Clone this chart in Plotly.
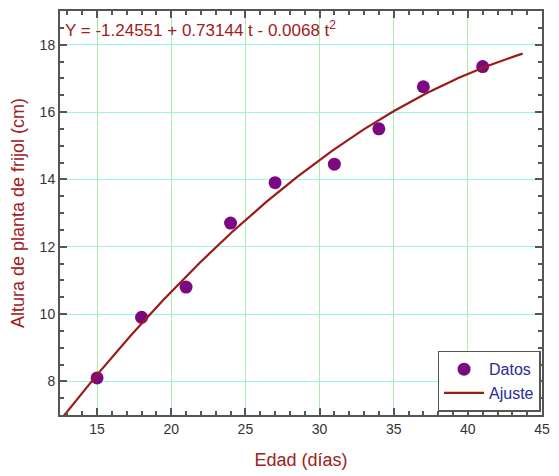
import numpy as np
import plotly.graph_objects as go

edad = [15, 18, 21, 24, 27, 31, 34, 37, 41]
altura = [8.1, 9.9, 10.8, 12.7, 13.9, 14.45, 15.5, 16.75, 17.35]
coef = [-1.24551, 0.73144, -0.0068]  # fitted equation printed on the chart
t_range = [12.5, 43.7]

t = np.linspace(t_range[0], t_range[1], 200)
y_fit = coef[0] + coef[1] * t + coef[2] * t ** 2

fig = go.Figure()
fig.add_trace(go.Scatter(x=edad, y=altura, mode="markers", name="Datos",
                         marker=dict(color="#7B0A82", size=13)))
fig.add_trace(go.Scatter(x=t, y=y_fit, mode="lines", name="Ajuste",
                         line=dict(color="#9B1B1B", width=2.2)))

FONT = "Liberation Sans, Arial"
axis_common = dict(showline=True, linecolor="#555555", linewidth=2, mirror="ticks",
                   ticks="inside", ticklen=7, tickwidth=1.5, tickcolor="#555555",
                   tickfont=dict(family=FONT, size=14, color="#333333"),
                   zeroline=False,
                   minor=dict(ticks="inside", ticklen=4, tickcolor="#555555", showgrid=False))

fig.update_xaxes(range=[12.5, 45], dtick=5, tick0=15, showgrid=True, gridcolor="#A8F0A8",
                 gridwidth=1,
                 title=dict(text="Edad (días)", font=dict(family=FONT, size=18, color="#A02020"),
                            standoff=18),
                 **axis_common)
fig.update_yaxes(range=[7, 19], dtick=2, tick0=8, showgrid=True, gridcolor="#98F5E8",
                 gridwidth=1,
                 title=dict(text="Altura de planta de frijol (cm)", font=dict(family=FONT, size=18, color="#A02020"),
                            standoff=10),
                 **axis_common)

fig.add_annotation(x=0.006, y=0.988, xref="paper", yref="paper", xanchor="left", yanchor="top",
                   text="Y = -1.24551 + 0.73144 t - 0.0068 t<sup>2</sup>", showarrow=False,
                   font=dict(family=FONT, size=17, color="#A02020"))

fig.update_layout(
    width=559, height=476,
    margin=dict(l=60, r=9, t=9, b=60),
    paper_bgcolor="white", plot_bgcolor="white",
    showlegend=True,
    legend=dict(x=0.997, y=0.008, xanchor="right", yanchor="bottom",
                bgcolor="white", bordercolor="#555555", borderwidth=1.5,
                font=dict(family=FONT, size=16, color="#2A2A9A"),
                itemwidth=40, tracegroupgap=0),
)

fig.write_html("out.html")
